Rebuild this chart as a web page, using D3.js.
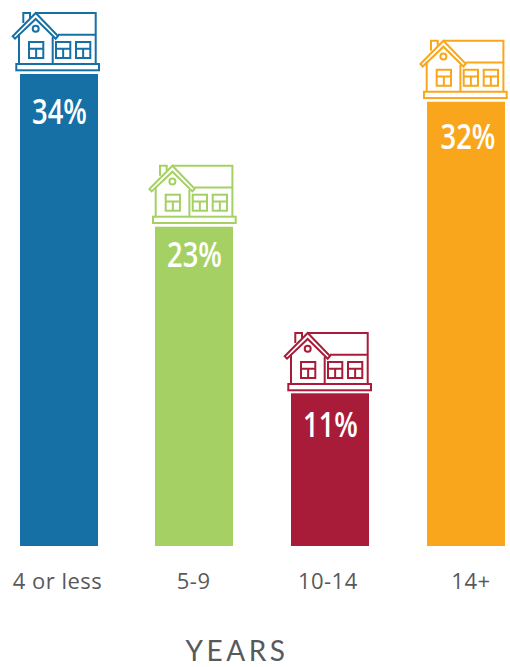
<html>
<head>
<script src="https://cdn.jsdelivr.net/npm/d3@7"></script>
<style>
  html, body { margin: 0; padding: 0; background: #fff; }
  svg { display: block; }
  .icon * { fill: none; stroke-width: 2px; }
  .axis-label { font-family: "Open Sans", sans-serif; fill: #58595b; }
  .pct { font-family: "Open Sans", sans-serif; font-weight: 600; fill: #fff; }
</style>
</head>
<body>
<div id="chart"></div>
<script>
var categories = ["4 or less", "5-9", "10-14", "14+"];
var values = [34, 23, 11, 32];
var colors = ["#1670a6", "#a5d164", "#a81c3a", "#faa61c"];
var axisTitle = "YEARS";

var width = 510, height = 667;
var x = d3.scaleBand().domain(categories).range([20, 505]).paddingInner(0.425).paddingOuter(0);
var y = d3.scaleLinear().domain([0, 34]).range([546, 74]);

// bars in the original sit on whole pixels
function barX(d) { return Math.round(x(d) - 0.2); }

var svg = d3.select("#chart").append("svg").attr("width", width).attr("height", height);

// bars
svg.selectAll(".bar").data(categories).enter().append("rect")
  .attr("class", "bar")
  .attr("x", barX)
  .attr("y", function(d, i) { return y(values[i]); })
  .attr("width", x.bandwidth())
  .attr("height", function(d, i) { return y(0) - y(values[i]); })
  .attr("fill", function(d, i) { return colors[i]; });

// percent labels, squeezed horizontally to get the condensed look
// the original places them by hand, so each has its own offset
var pctDx = [0.5, 0.5, 0.5, 2];
var pctDy = [50, 40, 44, 47];
svg.selectAll(".pct").data(categories).enter().append("text")
  .attr("class", "pct")
  .attr("text-anchor", "middle")
  .style("font-size", "35px")
  .attr("transform", function(d, i) {
    return "translate(" + (barX(d) + x.bandwidth() / 2 + pctDx[i]) + "," + (y(values[i]) + pctDy[i]) + ") scale(0.78,1)";
  })
  .text(function(d, i) { return values[i] + "%"; });

// house sitting on each bar, origin = top left of bar
function drawHouse(g) {
  // base plate
  g.append("rect").attr("x", -3.7).attr("y", -10).attr("width", 82.7).attr("height", 6.3);
  // roof, outer and inner edge
  g.append("path").attr("d", "M15.7,-61 L38,-38 L35.7,-35.3 L15.7,-55 L-5,-35.3 L-7.3,-37.7 Z");
  // chimney
  g.append("path").attr("d", "M3.3,-51 V-61 H10 V-56");
  g.append("circle").attr("cx", 15.7).attr("cy", -45.3).attr("r", 3);
  // walls
  g.append("path").attr("d", "M-1,-40 V-10 M32.7,-37 V-10");
  // right wing
  g.append("path").attr("d", "M15.7,-61 H75.7 V-10 M38,-39.3 H75.7");
  [9, 36, 56].forEach(function(wx) {
    g.append("rect").attr("x", wx).attr("y", -32).attr("width", 14.3).attr("height", 16);
    g.append("path").attr("d", "M" + wx + ",-25.3 H" + (wx + 14.3) + " M" + (wx + 7.15) + ",-25.3 V-16");
  });
}
var iconDx = [0, 1.7, 1, 0.7];
var iconDy = [0, 0, 0.7, 0];
svg.selectAll(".icon").data(categories).enter().append("g")
  .attr("class", "icon")
  .attr("transform", function(d, i) { return "translate(" + (barX(d) + iconDx[i]) + "," + (y(values[i]) + iconDy[i]) + ")"; })
  .style("stroke", function(d, i) { return colors[i]; })
  .each(function() { drawHouse(d3.select(this)); });

// category labels are not quite centred under the bars in the original
var labelNudge = [-1.5, -1, -2.5, 5];
svg.selectAll(".cat").data(categories).enter().append("text")
  .attr("class", "axis-label")
  .attr("x", function(d, i) { return x(d) + x.bandwidth() / 2 + labelNudge[i]; })
  .attr("y", 589)
  .attr("text-anchor", "middle")
  .style("font-size", "22px")
  .style("letter-spacing", "0.5px")
  .text(function(d) { return d; });

svg.append("text").attr("class", "axis-label")
  .attr("x", 237).attr("y", 661)
  .attr("text-anchor", "middle")
  .style("font-family", "Lato, sans-serif")
  .style("font-size", "28px")
  .style("letter-spacing", "3.5px")
  .text(axisTitle);
</script>
</body>
</html>
